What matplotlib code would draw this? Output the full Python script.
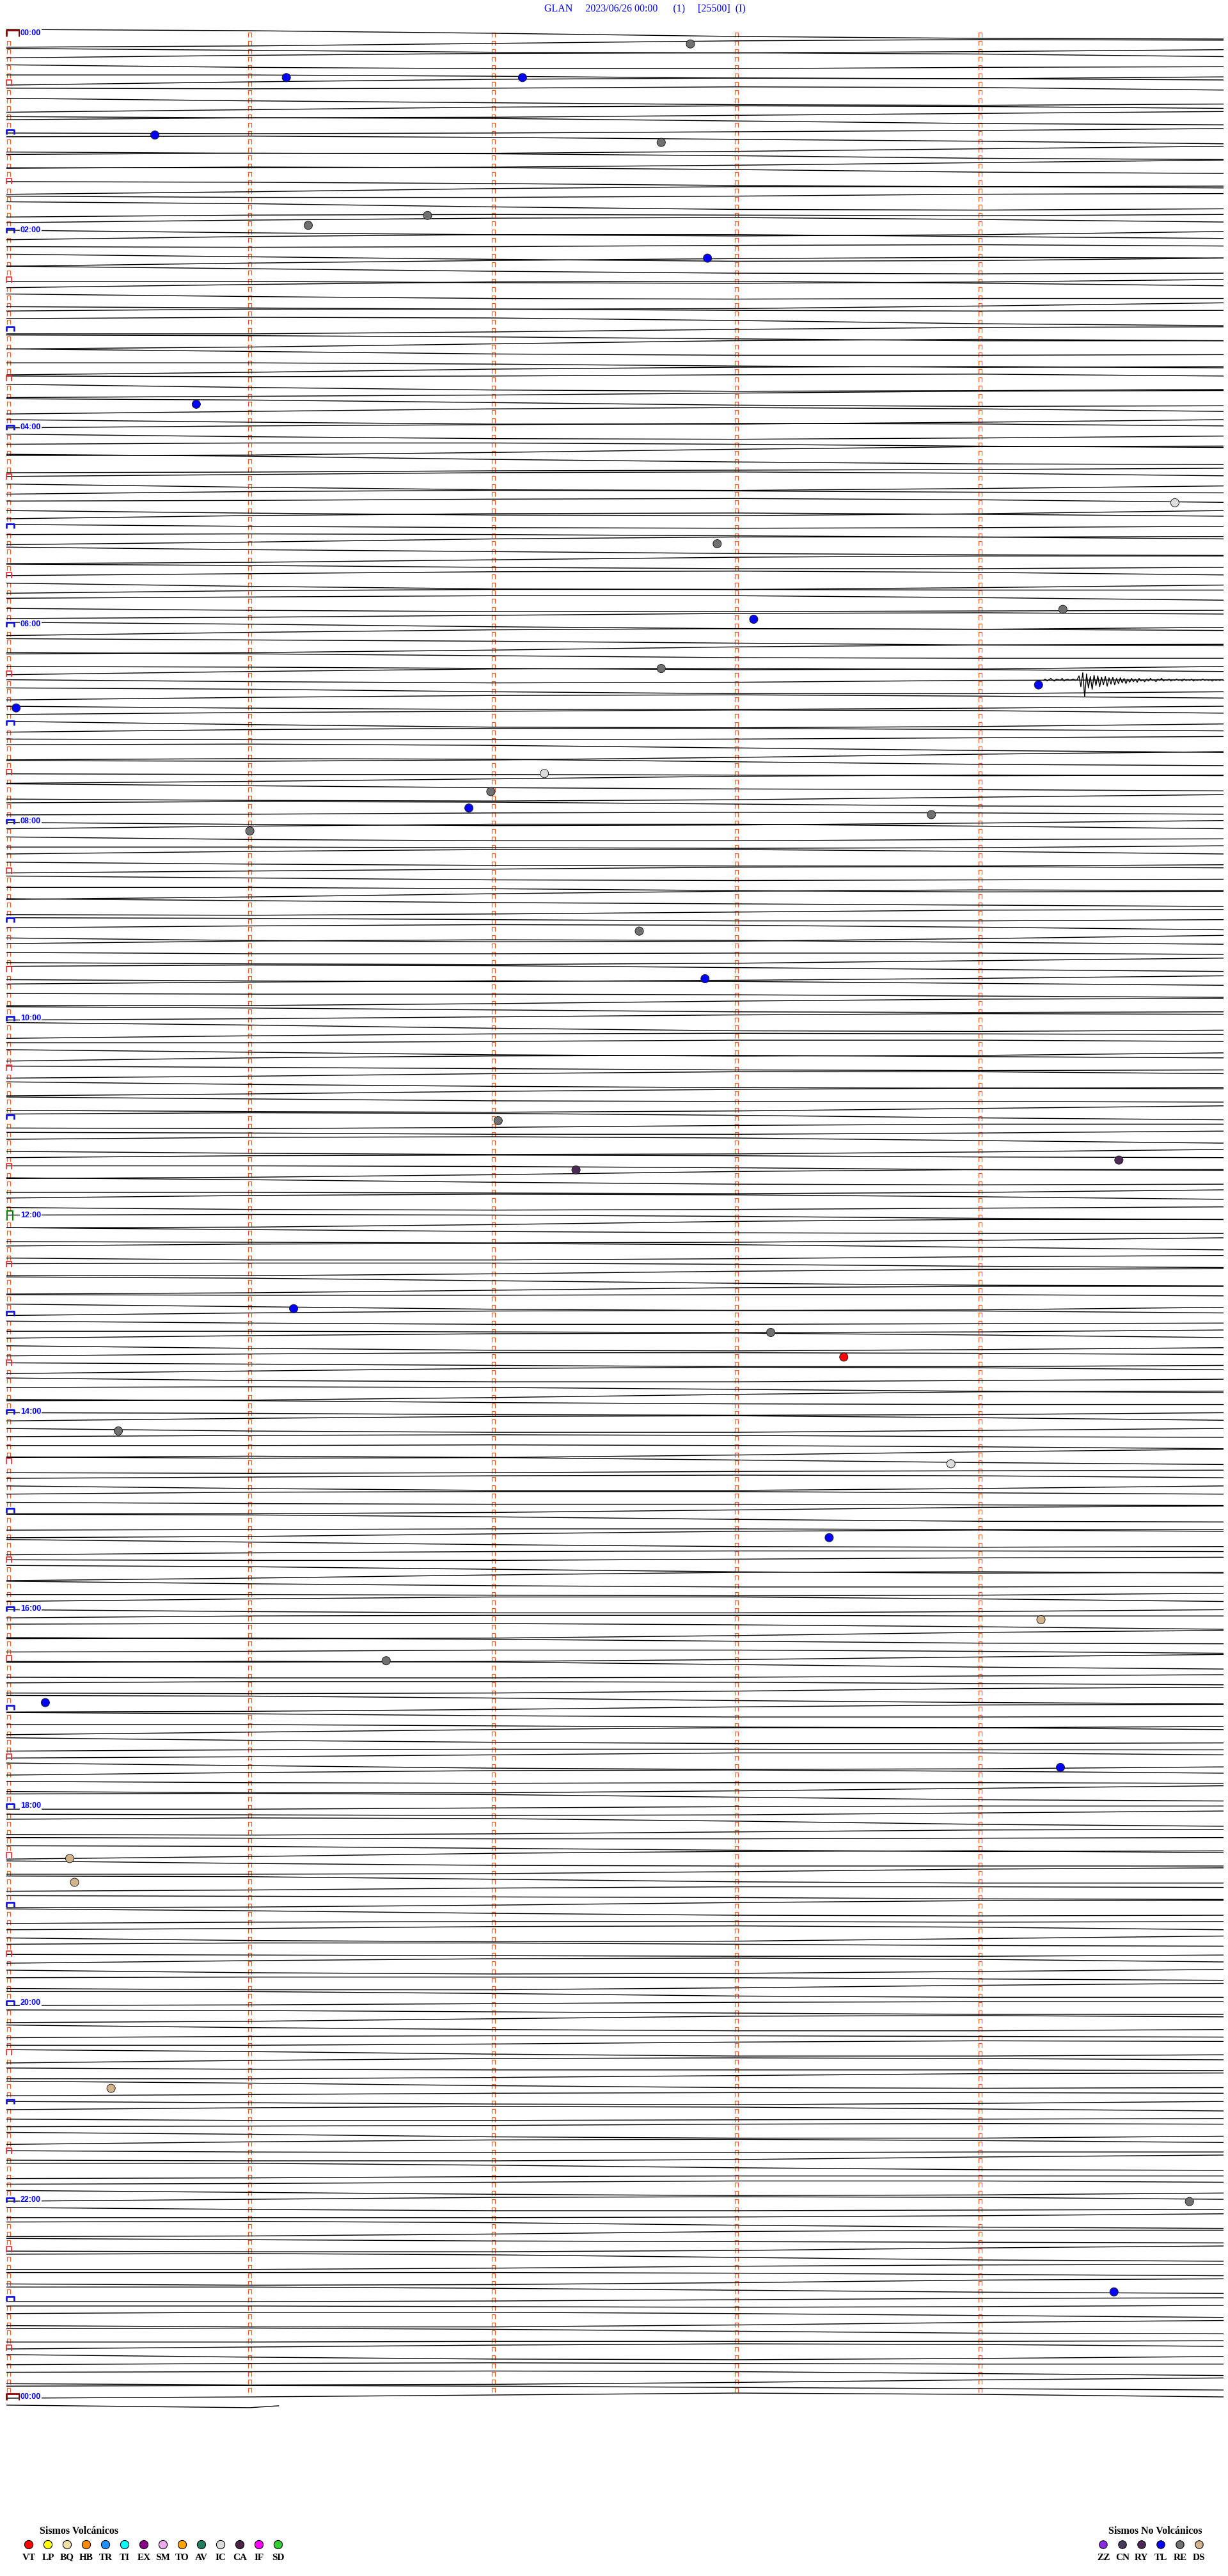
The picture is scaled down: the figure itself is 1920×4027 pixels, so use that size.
import numpy as np
import matplotlib
matplotlib.use("Agg")
import matplotlib.pyplot as plt
from matplotlib.collections import LineCollection

# ---------------- data ----------------
title_text = "GLAN     2023/06/26 00:00      (1)     [25500]  (I)"
hour_labels = ["00:00", "02:00", "04:00", "06:00", "08:00", "10:00", "12:00",
               "14:00", "16:00", "18:00", "20:00", "22:00", "00:00"]

# trace offsets (px, + = down) sampled every minute; 5 samples per 5-minute row
trace_start = -6
h00 = [-4, 0, 5, 8, 9, 7, 3, -1, -3, -2, 1, 4, 5, 3, 0, -4, -7, -8, -6, -2, 2, 4, 4, 2, 1, 1, 3, 6, 7, 4, -1, -5, -7, -6, -4, -3, -4, -6, -5, -1, 3, 6, 9, 10, 8, 4, 0, -2, -1, 2, 4, 3, 0, -3, -6, -9, -8, -4, 0, 2]
h01 = [3, 2, 0, -2, -5, -6, -4, -1, 2, 6, 8, 8, 5, 1, -3, -5, -4, -1, 3, 5, 5, 4, 1, -3, -7, -9, -8, -5, -1, 1, 2, 4, 7, 9, 8, 4, -1, -4, -4, -2, 0, 0, -2, -5, -6, -3, 2, 6, 7, 5, 2, 1, 2, 3, 1, -3, -6, -7, -4, 0]
h02 = [4, 7, 9, 7, 2, -3, -6, -6, -3, 0, 1, 0, -2, -3, -1, 3, 7, 10, 9, 5, 0, -4, -7, -9, -8, -4, 0, 3, 4, 3, 3, 5, 6, 4, 0, -5, -9, -10, -7, -3, 1, 4, 5, 4, 4, 6, 8, 7, 3, -2, -5, -5, -3, -2, -3, -5, -4, 0, 5, 8]
h03 = [8, 5, 1, -2, -3, -2, 0, 3, 6, 6, 3, -2, -7, -9, -7, -3, 1, 3, 3, 2, 2, 4, 7, 9, 8, 4, -1, -4, -5, -3, -2, -3, -5, -6, -3, 2, 6, 8, 7, 5, 3, 1, -2, -5, -6, -4, 0, 4, 6, 5, 1, -3, -5, -3, 1, 5, 8, 8, 5, 1]
h04 = [-2, -4, -6, -5, -2, 2, 5, 6, 4, 1, -1, -1, 1, 4, 6, 5, 1, -4, -8, -9, -6, -1, 3, 6, 7, 6, 4, 3, 2, 0, -3, -6, -7, -5, -1, 4, 8, 9, 6, 2, -2, -4, -3, -1, 0, -1, -3, -4, -2, 2, 6, 9, 10, 7, 2, -3, -6, -7, -5, -2]
h05 = [1, 3, 4, 3, 1, 0, 1, 3, 5, 4, 0, -5, -8, -8, -5, -1, 2, 5, 7, 8, 6, 2, -2, -4, -4, -2, 1, 3, 3, 1, -2, -5, -6, -4, 0, 5, 9, 10, 7, 3, -1, -3, -3, -2, -2, -4, -6, -6, -3, 1, 4, 6, 6, 5, 4, 2, -1, -4, -5, -3]
h06 = [0, 4, 7, 8, 5, 0, -4, -6, -5, -3, -1, 1, 4, 7, 8, 6, 2, -3, -6, -7, -5, -2, 1, 2, 2, 3, 5, 7, 6, 2, -3, -7, -8, -6, -3, 0, 2, 1, -2, -3, -1, 3, 6, 6, 3, -1, -4, -5, -3, 0, 3, 5, 5, 3, 0, -3, -5, -7, -6, -2]
h07 = [3, 7, 8, 6, 2, -2, -4, -4, -2, 0, 1, 1, 0, -2, -4, -5, -3, 1, 5, 8, 9, 7, 3, -2, -6, -8, -7, -3, 1, 3, 4, 4, 5, 6, 5, 2, -2, -6, -8, -7, -4, -1, 1, 2, 4, 6, 7, 5, 1, -3, -5, -4, -1, 2, 3, 2, 0, -1, 0, 2]
h08 = [5, 7, 6, 3, -1, -5, -8, -8, -5, -1, 3, 5, 5, 3, 2, 2, 3, 4, 3, 0, -4, -7, -7, -4, 0, 3, 5, 6, 6, 4, 1, -2, -5, -6, -4, -1, 2, 3, 2, 1, 1, 3, 6, 8, 7, 3, -2, -6, -8, -7, -4, -1, 1, 3, 5, 6, 4, 1, -2, -3]
h09 = [-2, 0, 2, 2, 0, -3, -5, -4, -1, 3, 7, 9, 8, 4, -1, -5, -7, -6, -3, 0, 2, 2, 1, 1, 3, 5, 6, 4, 0, -4, -6, -5, -2, 1, 4, 6, 7, 5, 2, -2, -5, -7, -6, -3, 0, 1, 1, 2, 4, 6, 6, 3, -1, -4, -5, -3, 0, 3, 4, 3]
h10 = [1, -2, -5, -7, -6, -2, 3, 7, 8, 6, 2, -1, -2, -1, 0, 0, -2, -4, -4, -2, 2, 6, 8, 7, 3, -2, -5, -6, -4, -2, 0, 2, 4, 5, 4, 1, -3, -6, -6, -3, 1, 4, 6, 7, 6, 3, -1, -4, -6, -5, -2, 1, 2, 2, 3, 5, 6, 4, 0, -4]
h11 = [-6, -5, -2, 2, 5, 6, 4, 1, -1, -1, 0, 2, 2, 0, -3, -6, -7, -5, -1, 3, 6, 8, 7, 4, 0, -3, -4, -3, -1, 0, 0, 1, 3, 6, 7, 5, 1, -4, -7, -7, -4, 0, 3, 4, 3, 3, 4, 5, 3, -1, -5, -7, -6, -3, 1, 4, 5, 4, 2, 0]
h12 = [-1, 0, 2, 5, 7, 6, 2, -3, -6, -6, -3, 0, 2, 3, 3, 4, 5, 4, 1, -3, -6, -7, -5, -1, 3, 6, 6, 4, 1, -1, -2, -2, 0, 3, 5, 5, 2, -2, -5, -6, -4, 0, 4, 7, 8, 6, 2, -2, -4, -4, -3, -3, -4, -4, -2, 2, 6, 8, 7, 3]
h13 = [-1, -4, -5, -4, -1, 2, 4, 4, 3, 2, 2, 3, 4, 3, 0, -4, -7, -8, -5, -1, 3, 6, 7, 5, 2, -1, -3, -3, -2, 0, 2, 4, 6, 6, 4, 0, -4, -6, -5, -2, 2, 4, 4, 2, 0, -1, 0, 3, 6, 8, 7, 3, -2, -6, -7, -5, -2, 0, 1, 1]
h14 = [2, 4, 5, 4, 1, -3, -6, -7, -4, 0, 4, 6, 6, 3, 0, -2, -3, -2, 0, 1, 1, 0, 1, 3, 6, 8, 7, 3, -2, -6, -8, -6, -2, 2, 5, 6, 5, 3, 2, 1, -1, -3, -4, -3, 0, 4, 7, 7, 4, 0, -3, -4, -4, -2, 0, 2, 3, 3, 4, 5]
h15 = [5, 3, -1, -5, -7, -6, -3, 1, 4, 5, 4, 3, 3, 4, 4, 2, -2, -6, -8, -6, -2, 2, 5, 6, 5, 2, 0, -1, -1, 0, 1, 1, -1, -3, -4, -2, 2, 6, 8, 7, 3, -2, -6, -7, -5, -1, 2, 4, 4, 3, 3, 4, 5, 4, 1, -3, -6, -6, -3, 1]
h16 = [4, 6, 6, 4, 1, -2, -3, -3, -2, -2, -3, -3, -1, 2, 6, 8, 7, 3, -2, -5, -6, -4, -1, 2, 3, 2, 0, 0, 2, 5, 6, 5, 2, -2, -6, -8, -7, -3, 1, 4, 5, 5, 4, 2, 0, -2, -2, -1, 1, 3, 4, 3, 0, -4, -6, -5, -2, 2, 5, 7]
h17 = [6, 3, -1, -4, -5, -3, 0, 2, 2, 1, 1, 3, 5, 6, 4, 0, -4, -7, -7, -4, 0, 3, 5, 5, 4, 2, 1, 1, 2, 2, 0, -3, -6, -6, -3, 1, 5, 7, 6, 3, -1, -4, -5, -3, 0, 2, 3, 2, 2, 3, 5, 5, 2, -2, -6, -7, -5, -1, 3, 5]
h18 = [5, 3, 1, 0, 0, 1, 2, 1, -2, -5, -7, -6, -2, 3, 6, 7, 5, 2, -1, -2, -1, 0, 0, -1, -2, -1, 2, 5, 7, 6, 2, -3, -6, -7, -4, 0, 3, 4, 4, 4, 4, 3, 0, -4, -6, -5, -1, 3, 5, 5, 3, 0, -2, -2, -1, 0, 1, 2, 4, 5]
h19 = [4, 1, -3, -6, -6, -3, 1, 4, 5, 4, 2, 1, 1, 2, 1, -1, -4, -5, -3, 1, 5, 7, 6, 2, -2, -4, -4, -2, 0, 1, 2, 3, 4, 4, 2, -2, -5, -6, -4, 0, 4, 6, 5, 2, -1, -2, -2, -1, 1, 3, 5, 5, 2, -2, -5, -5, -2, 2, 4, 4]
h20 = [3, 1, -1, -2, -2, -1, 1, 3, 5, 5, 3, -1, -5, -6, -4, 0, 3, 5, 5, 3, 1, 0, 0, 1, 2, 2, 0, -3, -5, -4, -1, 3, 6, 6, 4, 0, -3, -4, -3, -1, 1, 2, 2, 2, 3, 3, 1, -2, -5, -6, -3, 1, 4, 5, 4, 2, 0, -1, -1, 0]
h21 = [2, 4, 5, 3, 0, -3, -5, -4, -1, 2, 4, 4, 3, 2, 1, 0, -1, -3, -4, -3, 0, 4, 6, 6, 3, -1, -4, -5, -3, 0, 2, 3, 3, 2, 2, 3, 3, 1, -3, -6, -6, -3, 1, 4, 5, 4, 2, 1, 1, 1, 0, -2, -4, -4, -2, 1, 4, 6, 5, 2]
h22 = [-1, -4, -5, -4, -1, 2, 4, 4, 3, 2, 2, 2, 1, -1, -4, -5, -3, 1, 4, 6, 5, 2, -2, -4, -4, -2, 0, 1, 2, 3, 4, 4, 2, -2, -5, -6, -4, 0, 4, 6, 6, 4, 1, -1, -2, -2, -2, -1, 1, 3, 5, 4, 1, -3, -5, -5, -3, 0, 3, 5]
h23 = [5, 4, 2, 0, -1, -1, 0, 1, 0, -2, -4, -4, -2, 1, 4, 6, 6, 3, -1, -4, -5, -3, 0, 3, 4, 4, 3, 3, 3, 2, -1, -4, -6, -5, -2, 2, 5, 6, 4, 1, -1, -2, -1, 0, 0, -1, -2, -1, 2, 5, 7, 6, 3, -1, -4, -5, -4, -2, 0, 2]
h24 = [0, -3, -6, -4, 0]
last_row_vals = [4, 1]
last_row_end_min = 1.12

# burst (earthquake) on row 79, offsets in px
burst_row = 79
burst_start_min = 4.26
burst_end_min = 5.0
burst_px = [-2, -4, -1, -3, -5, -2, -1, -4, -3, -2, -5, -1, -3, -4, -2, -3, -4, -2, -3,
            -9, 8, -14, 24, -12, 10, -8, 12, -10, 6, -9, 8, -7, 5, -8, 7, -6, 4, -7, 5,
            -5, 3, -6, 2, -5, 3, -4, 1, -5, 0, -4, 1, -5, -1, -3, 0, -4, -1, -5, -2,
            -3, 0, -4, -2, -5, -1, -3, -2, -4, -1, -3, -2, -4, -2, -3, -1, -4, -2, -3,
            -2, -4, -1, -3, -2, -3, -2, -4, -2, -3, -2, -3, -1, -3, -2, -3, -2, -3, -2]

# classified events: row (5-min line), minute within row, type code
event_row = [1.3, 5.4, 5.4, 12.4, 13.3, 23.4, 22.2, 27.4, 45.2, 57.2, 62.2, 71.4, 70.2,
             77.4, 79.4, 82.2, 90.2, 92.4, 94.4, 95.2, 97.2, 109.4, 115.2, 132.5, 138.5,
             137.3, 155.4, 158.3, 161.3, 170.3, 174.3, 183.3, 193.3, 198.3, 203.4,
             211.3, 222.4, 225.3, 250.4, 264.2, 275.2]
event_minute = [2.81, 1.15, 2.12, 0.61, 2.69, 1.24, 1.73, 2.88, 0.78, 4.80, 2.92, 3.07,
                4.34, 2.69, 4.24, 0.04, 2.21, 1.99, 1.90, 3.80, 1.00, 2.60, 2.87, 2.02,
                2.34, 4.57, 1.18, 3.14, 3.44, 0.46, 3.88, 3.38, 4.25, 1.56, 0.16, 4.33,
                0.26, 0.28, 0.43, 4.86, 4.55]
event_type = ["RE", "TL", "TL", "TL", "RE", "RE", "RE", "TL", "TL", "IC", "RE", "TL",
              "RE", "RE", "TL", "TL", "IC", "RE", "TL", "RE", "RE", "RE", "TL", "RE",
              "RY", "RY", "TL", "RE", "VT", "RE", "IC", "TL", "DS", "RE", "TL", "TL",
              "DS", "DS", "DS", "RE", "TL"]

volc_title = "Sismos Volcánicos"
volc_codes = ["VT", "LP", "BQ", "HB", "TR", "TI", "EX", "SM", "TO", "AV", "IC", "CA", "IF", "SD"]
volc_colors = ["#FF0000", "#FFFF00", "#F0E0A8", "#FF8C00", "#1E90FF", "#00FFFF", "#8B008B",
               "#EEAAEE", "#FFA500", "#1F7F5F", "#DCDCDC", "#4A2545", "#FF00FF", "#32CD32"]
nonvolc_title = "Sismos No Volcánicos"
nonvolc_codes = ["ZZ", "CN", "RY", "TL", "RE", "DS"]
nonvolc_colors = ["#8A2BE2", "#463A5A", "#4B2A55", "#0000FF", "#707070", "#D2B48C"]

# ---------------- layout ----------------
W, H, DPI = 1920, 4027, 100
X0, PXM = 10.0, 380.6      # pixel of minute 0, pixels per minute
Y0, PXR = 52.0, 12.83      # pixel of row 0, pixels per row
N_ROWS = 289

fig = plt.figure(figsize=(W / DPI, H / DPI), dpi=DPI)
fig.patch.set_facecolor("white")
ax = fig.add_axes([0, 0, 1, 1])
ax.set_xlim(-X0 / PXM, (W - X0) / PXM)
ax.set_ylim((H - Y0) / PXR, -Y0 / PXR)
ax.axis("off")

lay = fig.add_axes([0, 0, 1, 1])
lay.set_xlim(0, W)
lay.set_ylim(H, 0)
lay.axis("off")
lay.patch.set_alpha(0)

# traces
sig = np.array([trace_start] + h00 + h01 + h02 + h03 + h04 + h05 + h06 + h07 + h08 + h09 +
               h10 + h11 + h12 + h13 + h14 + h15 + h16 + h17 + h18 + h19 + h20 + h21 +
               h22 + h23 + h24, dtype=float)
knot_min = np.arange(6)
segs = []
for r in range(N_ROWS):
    vals = sig[5 * r: 5 * r + 6]
    segs.append(np.column_stack([knot_min, r + vals / PXR]))
last_vals = np.array([sig[-1]] + last_row_vals)
segs.append(np.column_stack([np.array([0, 1, last_row_end_min]), N_ROWS + last_vals / PXR]))
ax.add_collection(LineCollection(segs, colors="black", linewidths=1.0, zorder=3))

# burst waveform
bx = np.linspace(burst_start_min, burst_end_min, len(burst_px))
ax.plot(bx, burst_row + np.array(burst_px) / PXR, color="black", lw=1.0, zorder=3)

# time markers (⊓ shapes)
def cap(xc_px, row, w, top, bot):
    xl = (xc_px - w / 2 - X0) / PXM
    xr = (xc_px + w / 2 - X0) / PXM
    yt = row + top / PXR
    yb = row + bot / PXR
    return [(xl, yb), (xl, yt), (xr, yt), (xr, yb)]

small, red, blue, green, maroon = [], [], [], [], []
for r in range(N_ROWS):
    for m in (1, 2, 3, 4):
        if r < N_ROWS - 1:
            small.append(cap(X0 + m * PXM, r, 5, -1, 6))
    if r % 12 == 0:
        if r == 0 or r == N_ROWS - 1:
            maroon.append(cap(X0 + 10, r, 20, -5, 5))
        elif r == 144:
            green.append(cap(X0 + 5, r, 9, -7, 8))
        else:
            blue.append(cap(X0 + 6, r, 12, -3, 4))
    elif r % 6 == 0:
        red.append(cap(X0 + 4, r, 8, -4, 5))
    else:
        small.append(cap(X0 + 3, r, 5, -1, 6))

ax.add_collection(LineCollection(small, colors="#FF5A1E", linewidths=0.9, zorder=2))
ax.add_collection(LineCollection(red, colors="#FF2020", linewidths=1.2, zorder=4))
ax.add_collection(LineCollection(blue, colors="#1010F0", linewidths=2.0, zorder=4))
ax.add_collection(LineCollection(green, colors="#008000", linewidths=1.5, zorder=4))
ax.add_collection(LineCollection(maroon, colors="#8B0000", linewidths=2.0, zorder=4))

# hour labels
for i, lab in enumerate(hour_labels):
    r = i * 24
    lay.text(32, Y0 + r * PXR, lab, ha="left", va="center", color="#0000FF",
             fontsize=9, fontweight="bold", family="Liberation Sans", zorder=5,
             bbox=dict(facecolor="white", edgecolor="none", pad=0.5))

# events
color_map = dict(zip(volc_codes + nonvolc_codes, volc_colors + nonvolc_colors))
ev_colors = [color_map[t] for t in event_type]
ax.scatter(event_minute, event_row, s=88, c=ev_colors, edgecolors="#202020",
           linewidths=0.7, zorder=6)

# title
lay.text(1008, 13, title_text, ha="center", va="center", color="#0000FF",
         fontsize=11.5, family="Liberation Serif")

# legends
lay.text(124, 3957, volc_title, ha="center", va="center", fontsize=11.5,
         fontweight="bold", family="Liberation Serif", color="black")
vx = 45 + 30 * np.arange(len(volc_codes))
lay.scatter(vx, np.full(len(vx), 3978), s=90, c=volc_colors, edgecolors="black",
            linewidths=0.8, zorder=5)
for x, code in zip(vx, volc_codes):
    lay.text(x, 3998, code, ha="center", va="center", fontsize=11,
             fontweight="bold", family="Liberation Serif", color="black")

lay.text(1806, 3957, nonvolc_title, ha="center", va="center", fontsize=11.5,
         fontweight="bold", family="Liberation Serif", color="black")
nx = 1725 + 30 * np.arange(len(nonvolc_codes))
lay.scatter(nx, np.full(len(nx), 3978), s=80, c=nonvolc_colors, edgecolors="black",
            linewidths=0.8, zorder=5)
for x, code in zip(nx, nonvolc_codes):
    lay.text(x, 3998, code, ha="center", va="center", fontsize=11,
             fontweight="bold", family="Liberation Serif", color="black")

fig.savefig("out.png", dpi=DPI, facecolor="white")
